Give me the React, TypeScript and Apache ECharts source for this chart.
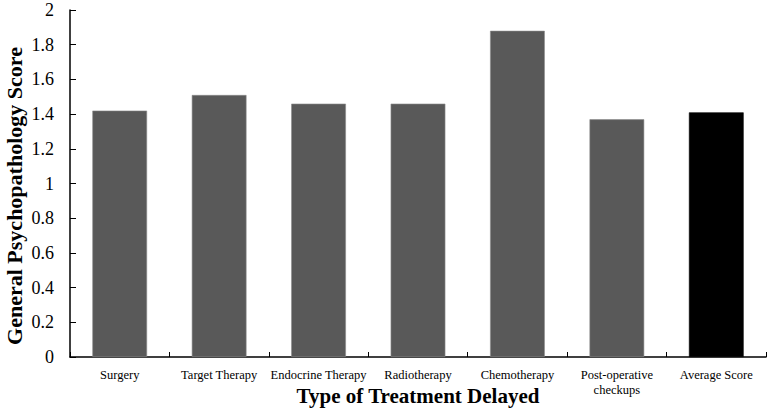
import React, { useEffect, useRef } from "react";
import * as echarts from "echarts";

const categories = [
  "Surgery",
  "Target Therapy",
  "Endocrine Therapy",
  "Radiotherapy",
  "Chemotherapy",
  "Post-operative\ncheckups",
  "Average Score",
];
const scores = [1.42, 1.51, 1.46, 1.46, 1.88, 1.37, 1.41];
const barColors = ["#595959", "#595959", "#595959", "#595959", "#595959", "#595959", "#000000"];
const yTickMin = 0;
const yTickMax = 2;
const yTickStep = 0.2;
const xTitle = "Type of Treatment Delayed";
const yTitle = "General Psychopathology Score";

const FONT = "'Liberation Serif', serif";

export default function App() {
  const ref = useRef<HTMLDivElement>(null);
  useEffect(() => {
    if (!ref.current) return;
    const chart = echarts.init(ref.current, null, { renderer: "svg" });
    chart.setOption({
      animation: false,
      backgroundColor: "#ffffff",
      grid: { left: 70, right: 1, top: 10, bottom: 52, containLabel: false, outerBoundsMode: "none" },
      graphic: [
        {
          type: "text",
          x: 418,
          y: 396,
          style: {
            text: xTitle,
            fontFamily: FONT,
            fontWeight: "bold",
            fontSize: 21,
            fill: "#000",
            align: "center",
            verticalAlign: "middle",
          },
        },
        {
          type: "text",
          x: 14,
          y: 196,
          rotation: Math.PI / 2,
          style: {
            text: yTitle,
            fontFamily: FONT,
            fontWeight: "bold",
            fontSize: 22,
            fill: "#000",
            align: "center",
            verticalAlign: "middle",
          },
        },
      ],
      xAxis: {
        type: "category",
        data: categories,
        axisLine: { lineStyle: { color: "#000", width: 1.5 } },
        axisTick: { show: true, inside: true, length: 5, lineStyle: { color: "#000" }, alignWithLabel: false },
        axisLabel: { fontFamily: FONT, fontSize: 12.5, color: "#000", margin: 10, interval: 0, lineHeight: 15 },
      },
      yAxis: {
        type: "value",
        min: yTickMin,
        max: yTickMax,
        interval: yTickStep,
        axisLine: { show: true, lineStyle: { color: "#000", width: 1.5 } },
        axisTick: { show: true, inside: true, length: 6, lineStyle: { color: "#000" } },
        splitLine: { show: false },
        axisLabel: {
          fontFamily: FONT,
          fontSize: 18,
          color: "#000",
          margin: 16,
          formatter: (v: number) => String(Math.round(v * 10) / 10),
        },
      },
      series: [
        {
          type: "bar",
          barWidth: "55%",
          data: scores.map((v, i) => ({
            value: v,
            itemStyle: { color: barColors[i], borderColor: i === 6 ? "#000" : "#8a8a8a", borderWidth: 0.6 },
          })),
        },
      ],
    });
    return () => chart.dispose();
  }, []);
  return (
    <div
      ref={ref}
      style={{ position: "fixed", left: 0, top: 0, width: 767, height: 409, background: "#fff" }}
    />
  );
}
